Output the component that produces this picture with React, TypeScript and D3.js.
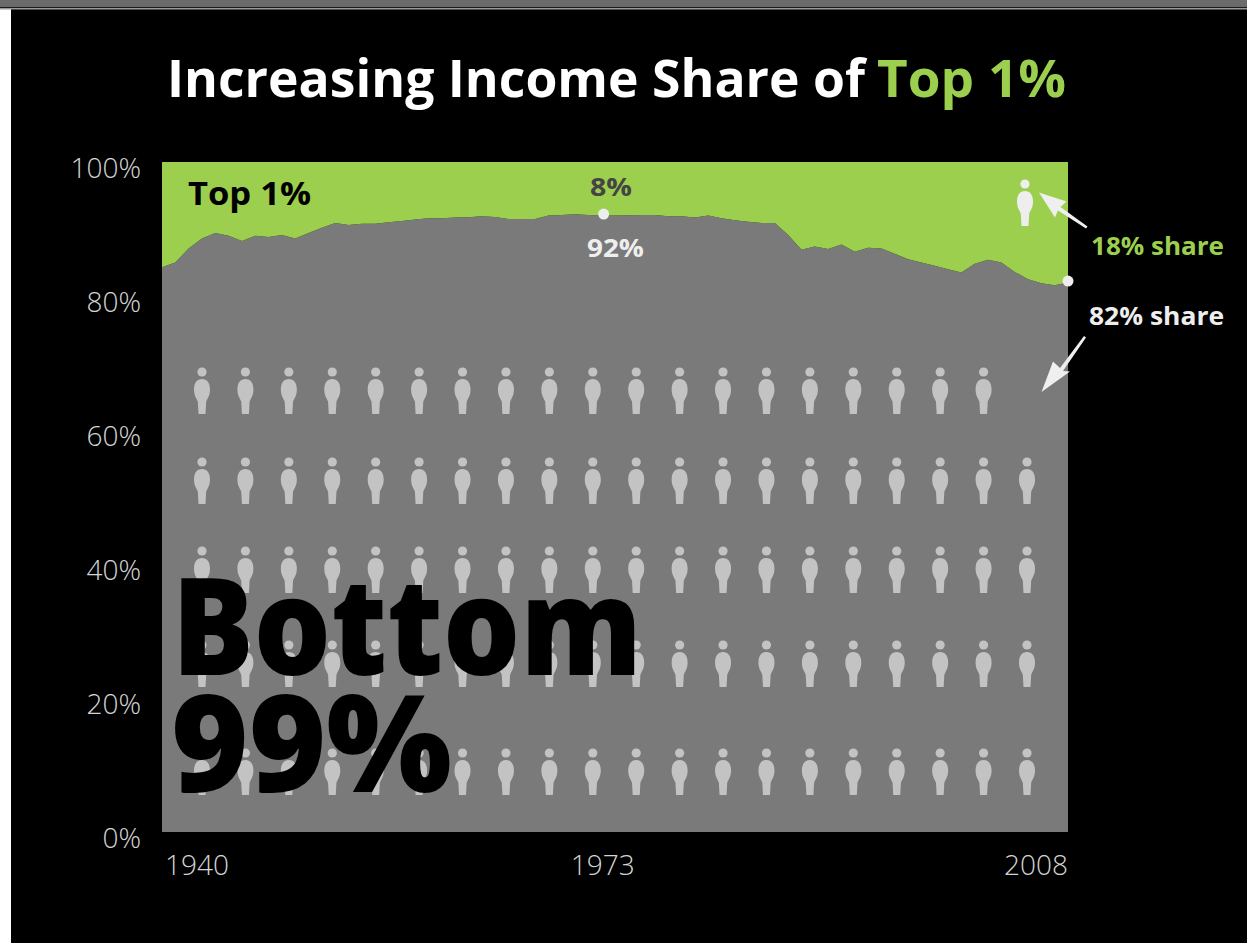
import React from "react";
import * as d3 from "d3";

// Share of national income held by the bottom 99%, one value per year from 1940.
const years = d3.range(1940, 2009);
const bottomShare = [
  84.3, 85.0, 87.1, 88.6, 89.4, 89.0, 88.2, 89.0, 88.8, 89.1,
  88.6, 89.4, 90.2, 90.9, 90.6, 90.8, 90.8, 91.0, 91.2, 91.4,
  91.6, 91.6, 91.7, 91.75, 91.9, 91.8, 91.5, 91.5, 91.5, 92.0,
  92.1, 92.2, 92.1, 92.0, 92.0, 92.05, 92.1, 92.1, 91.9, 91.9,
  91.7, 92.0, 91.6, 91.3, 91.1, 90.9, 90.9, 89.1, 86.9, 87.4,
  87.0, 87.7, 86.6, 87.2, 87.1, 86.3, 85.5, 85.0, 84.5, 84.0,
  83.5, 84.8, 85.4, 85.0, 83.6, 82.5, 81.9, 81.6, 82.0,
];
const yTicks = [0, 20, 40, 60, 80, 100];
const xTicks = [1940, 1973, 2008];
const xTickAnchors = ["start", "middle", "end"];
const markedYears = [1973, 2008];

// One figure stands for one percent of earners: five rows of twenty, minus the
// single figure that sits in the Top 1% band.
const figureColumns = d3.range(20);
const rowFigureCounts = [19, 20, 20, 20, 20];

const GREEN = "#9ccf4e";
const GREY = "#7a7a7a";
const FIGURE = "#c3c3c3";
const FONT = "'Open Sans', sans-serif";

const plot = { left: 162, right: 1068, top: 162, bottom: 832 };
const x = d3.scaleLinear().domain([1940, 2008]).range([plot.left, plot.right]);
const y = d3.scaleLinear().domain([0, 100]).range([plot.bottom, plot.top]);
const column = d3.scaleLinear().domain([0, 19]).range([202, 1027]);
const rowHeadY = [372, 462, 551, 645, 753];

const rows = years.map((year, i) => ({ year, bottom: bottomShare[i] }));
const bottomArea = d3.area<{ year: number; bottom: number }>()
  .x((d) => x(d.year)).y0(y(0)).y1((d) => y(d.bottom));
const topArea = d3.area<{ year: number; bottom: number }>()
  .x((d) => x(d.year)).y0((d) => y(d.bottom)).y1(y(100));

// Head and oval body running into tapered legs, head centre at the origin.
const FIGURE_BODY =
  "M0,7 C5,7 8,11 8,17.5 C8,24 5.4,26.5 4.2,29.5 L3.5,42 L-3.5,42 L-4.2,29.5 C-5.4,26.5 -8,24 -8,17.5 C-8,11 -5,7 0,7 Z";

function Figure({ cx, head, fill }: { cx: number; head: number; fill: string }) {
  return (
    <g transform={`translate(${cx},${head})`} fill={fill}>
      <circle r={4.6} />
      <path d={FIGURE_BODY} />
    </g>
  );
}

function Arrow({ d }: { d: string }) {
  return <path d={d} fill="#efefef" />;
}

function Label(props: React.SVGProps<SVGTextElement> & { width?: number }) {
  const { width, children, ...rest } = props;
  return (
    <text fontFamily={FONT} fontWeight={700} lengthAdjust="spacingAndGlyphs"
      textLength={width} {...rest}>
      {children}
    </text>
  );
}

export default function App() {
  return (
    <svg width={1247} height={943} viewBox="0 0 1247 943"
      style={{ position: "absolute", left: 0, top: 0, display: "block" }}>
      {/* window frame */}
      <rect width={1247} height={943} fill="#ffffff" />
      <rect x={11} y={9} width={1236} height={934} fill="#000000" />
      <rect width={1247} height={6.5} fill="#6b6b6b" />
      <rect y={6.5} width={1247} height={1.5} fill="#1c1c1c" />
      <rect y={8} width={1247} height={1.5} fill="#9a9a9a" />

      <Label x={167} y={97} fontSize={52} fill="#ffffff" width={698}>Increasing Income Share of</Label>
      <Label x={877} y={97} fontSize={52} fill={GREEN} width={189}>Top 1%</Label>

      <path d={bottomArea(rows) ?? ""} fill={GREY} />
      <path d={topArea(rows) ?? ""} fill={GREEN} />

      {rowFigureCounts.map((count, r) =>
        figureColumns.slice(0, count).map((c) => (
          <Figure key={`${r}-${c}`} cx={column(c)} head={rowHeadY[r]} fill={FIGURE} />
        ))
      )}
      <Figure cx={1025} head={184} fill="#eeeeee" />

      {yTicks.map((t) => (
        <text key={t} x={141} y={y(t) + 16} textAnchor="end" fontFamily={FONT}
          fontWeight={300} fontSize={28} fill="#d4d4d4">{t}%</text>
      ))}
      {xTicks.map((t, i) => (
        <text key={t} x={x(t) + (i === 0 ? 3 : i === 1 ? 1 : 0)} y={875}
          textAnchor={xTickAnchors[i]} fontFamily={FONT} fontWeight={300}
          fontSize={28} fill="#d4d4d4">{t}</text>
      ))}

      {markedYears.map((yr) => (
        <ellipse key={yr} cx={x(yr) + (yr === 1973 ? 2 : 0)} cy={y(rows[yr - 1940].bottom) - 1.5}
          rx={5.5} ry={5.5} fill="#eeeeee" />
      ))}

      <Label x={188} y={205} fontSize={32} fill="#000000" width={123}>Top 1%</Label>
      <Label x={590} y={196} fontSize={25} fill="#444444" width={42}>8%</Label>
      <Label x={587} y={257} fontSize={25} fill="#eeeeee" width={57}>92%</Label>
      <Label x={1091} y={255} fontSize={25} fill={GREEN} width={133}>18% share</Label>
      <Label x={1089} y={325} fontSize={25} fill="#eeeeee" width={135}>82% share</Label>

      <Label x={172} y={675} fontSize={134} fontWeight={800} fill="#000000" width={470}>Bottom</Label>
      <Label x={171} y={792} fontSize={134} fontWeight={800} fill="#000000" width={281}>99%</Label>

      <Arrow d="M1039,192.5 L1066.5,201.5 L1060.5,207 L1087.5,226.5 L1086,228.5 L1058,210.5 L1055,217.5 Z" />
      <Arrow d="M1041.5,392 L1053,361.5 L1060,368 L1084,336 L1086,337.5 L1063,371 L1070,371.5 Z" />
    </svg>
  );
}
